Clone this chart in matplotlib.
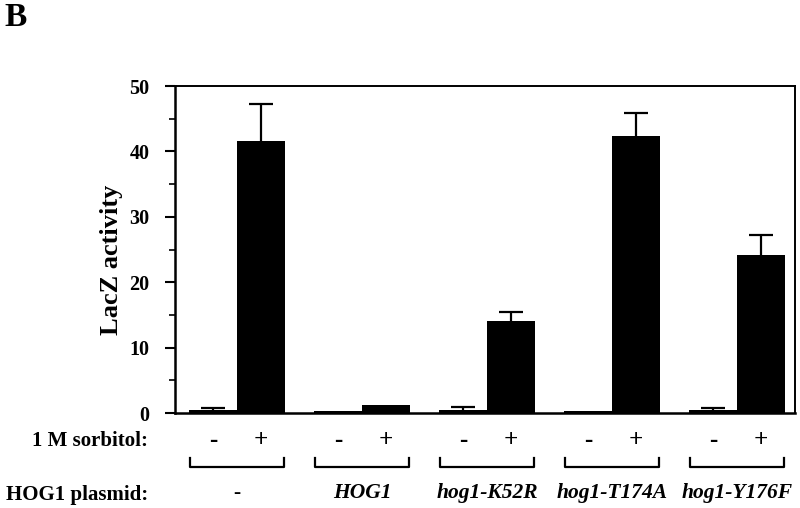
import matplotlib
matplotlib.use('Agg')
import matplotlib.pyplot as plt
import numpy as np

plt.rcParams['font.family'] = ['Liberation Serif', 'DejaVu Serif']

plasmids = ['-', 'HOG1', 'hog1-K52R', 'hog1-T174A', 'hog1-Y176F']
minus_vals = [0.4, 0.3, 0.4, 0.3, 0.4]
minus_err = [0.4, 0.0, 0.5, 0.0, 0.3]
plus_vals = [41.6, 1.3, 14.0, 42.4, 24.1]
plus_err = [5.6, 0.0, 1.5, 3.4, 3.1]

x = np.arange(len(plasmids))
w = 0.385

fig = plt.figure(figsize=(8, 5.08), dpi=100)
ax = fig.add_axes([0.21875, 0.187, 0.775, 0.6437])

ax.bar(x - w/2, minus_vals, w, color='black', zorder=3)
ax.bar(x + w/2, plus_vals, w, color='black', zorder=3)

# error bars (upper half only) where there is one
for pos, vals, errs in [(x - w/2, minus_vals, minus_err), (x + w/2, plus_vals, plus_err)]:
    vals = np.array(vals)
    errs = np.array(errs)
    m = errs > 0
    eb = ax.errorbar(pos[m], vals[m], yerr=[np.zeros(m.sum()), errs[m]], fmt='none',
                     ecolor='black', elinewidth=1.6, capsize=8.3, capthick=1.6, zorder=4)
    eb[1][0].set_visible(False)  # lower cap sits on the bar top

ax.set_xlim(-0.496, 4.464)
ax.set_ylim(0, 50)
ax.set_xticks([])
ax.set_yticks([0, 10, 20, 30, 40, 50])
ax.set_yticks([5, 15, 25, 35, 45], minor=True)
ax.tick_params(axis='y', which='major', length=7.5, width=1.5, direction='out', pad=11,
               labelsize=14.5)
ax.tick_params(axis='y', which='minor', length=4, width=1.2, direction='out')
for lab in ax.get_yticklabels():
    lab.set_fontweight('bold')
for side in ['left', 'bottom']:
    ax.spines[side].set_linewidth(1.8)
for side in ['top', 'right']:
    ax.spines[side].set_linewidth(1.4)

ax.set_ylabel('LacZ activity', fontsize=19, fontweight='bold')
ax.yaxis.set_label_coords(-0.084, 0.47)

tr = ax.get_xaxis_transform()
for i in x:
    ax.text(i - w/2, -0.0856, '-', ha='center', va='center', fontsize=18,
            fontweight='bold', transform=tr)
    ax.text(i + w/2, -0.0856, '+', ha='center', va='center', fontsize=18,
            fontweight='bold', transform=tr)
    ax.plot([i - w + 0.01, i - w + 0.01, i + w - 0.01, i + w - 0.01],
            [-0.1376, -0.1636, -0.1636, -0.1376], color='black', lw=1.6,
            transform=tr, clip_on=False)
    ax.text(i, -0.2446, plasmids[i], ha='center', va='center', fontsize=15.5,
            fontweight='bold', style='normal' if plasmids[i] == '-' else 'italic',
            transform=tr)

fig.text(0.185, (508 - 441) / 508, '1 M sorbitol:', ha='right', va='center',
         fontsize=15, fontweight='bold')
fig.text(0.185, (508 - 495) / 508, 'HOG1 plasmid:', ha='right', va='center',
         fontsize=15, fontweight='bold')
fig.text(0.006, (508 - 17) / 508, 'B', ha='left', va='center', fontsize=24,
         fontweight='bold')

fig.savefig('out.png', dpi=100)
